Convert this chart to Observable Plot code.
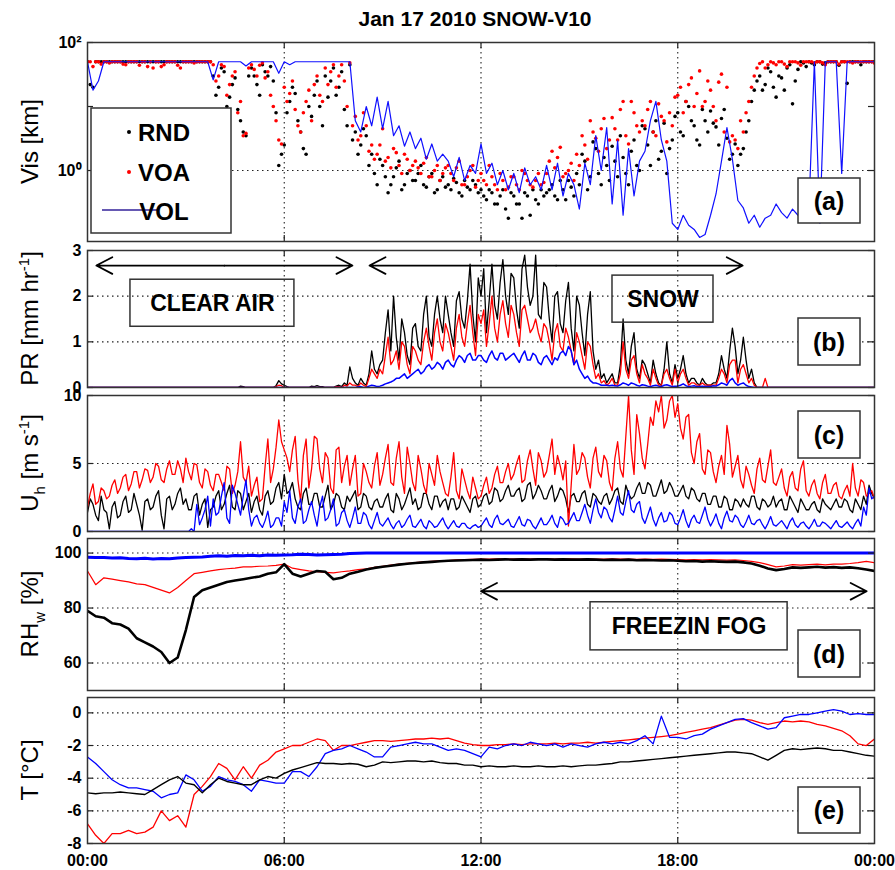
<!DOCTYPE html>
<html>
<head>
<meta charset="utf-8">
<script src="https://cdn.jsdelivr.net/npm/d3@7"></script>
<script src="https://cdn.jsdelivr.net/npm/@observablehq/plot@0.6"></script>
<style>
html,body{margin:0;padding:0;background:#fff;}
#chart{position:relative;width:895px;height:870px;overflow:hidden;font-family:"Liberation Sans",Arial,sans-serif;}
#chart svg{position:absolute;left:0;overflow:visible;}
#title{position:absolute;left:55px;width:840px;top:7px;text-align:center;font-size:21px;font-weight:bold;line-height:24px;color:#000;}
</style>
</head>
<body>
<div id="chart"><div id="title">Jan 17 2010 SNOW-V10</div></div>
<script>
// ---------- time axis ----------
const hourTicks = [0, 6, 12, 18, 24];
const hourLabels = ["00:00", "06:00", "12:00", "18:00", "00:00"];
const seriesNames = ["RND", "VOA", "VOL"];

// ---------- (a) visibility [km]; on the 10-min marks (…) and at the 5-min half steps (…Mid) ----------
const visRND = [
50,20,50,50,50,50, 50,50,50,50,50,50, 50,50,50,50,50,50, 50,50,50,50,50,30,
20,35,14,28,6,3.5, 40,22,45,30,25,1.2, 2.5,12,16,4,1.8,7, 25,5,14,40,20,9,
45,4,2.5,3.5,1.8,0.6, 1.2,0.45,0.8,1.4,0.6,1.0, 0.7,1.2,0.55,0.9,0.5,0.8, 0.6,0.75,0.45,0.7,0.5,0.6,
0.5,0.35,0.45,0.3,0.5,0.18, 0.4,0.3,0.45,0.2,0.35,0.5, 0.45,0.6,0.35,0.5,0.7,0.4, 0.6,1.4,0.8,2.2,0.6,1.2,
2.4,0.8,1.6,0.6,3.0,1.0, 4.5,1.2,6,2.0,0.9,3.0, 8,3.5,10,5,2.5,6, 8.5,4.8,6.5,3.2,1.8,1.2,
2.2,6,18,30,22,35, 14,28,40,11,38,48, 50,45,50,48,50,50, 50,23,50,50,50,50,
50];
const visRNDMid = [
22,50,50,50,50,50, 50,50,50,50,50,50, 50,50,50,50,50,50, 50,50,50,50,50,15,
40,10,22,9,4,30, 30,15,35,42,8,1.8, 8,20,6,2.2,10,15, 10,30,25,15,35,5,
3,1.8,4.5,1.2,0.9,1.5, 0.8,0.6,1.1,0.5,0.9,0.7, 0.9,0.6,0.8,0.45,0.7,0.55, 0.5,0.65,0.4,0.55,0.7,0.45,
0.4,0.5,0.3,0.4,0.25,0.45, 0.3,0.18,0.4,0.5,0.3,0.4, 0.5,0.4,0.7,0.35,0.55,0.9, 1.8,0.5,2.8,0.9,1.6,0.7,
1.4,3.5,0.9,2.0,1.2,5, 2.5,4,1.5,5.5,2.2,7, 4,12,6,3,9,4, 5.5,2.5,9,1.5,2.6,1.8,
4,12,25,18,40,20, 30,18,45,25,50,42, 48,50,46,50,50,44, 50,50,50,45,50,50];
const visVOA = [
50,42,50,50,48,50, 50,45,50,50,50,42, 40,50,45,50,50,40, 50,50,50,50,50,45,
30,42,22,35,12,3.8, 45,30,48,35,10,3, 20,16,9,4,12,6, 30,12,22,45,30,25,
48,7,3.5,5,2.5,1.8, 4.5,1.6,2.2,1.2,1.8,1.0, 1.4,0.9,1.6,0.8,1.2,0.9, 1.2,0.7,1.4,0.6,1.0,0.55,
0.9,0.6,0.8,0.5,0.7,0.55, 0.8,0.5,0.9,0.6,0.7,0.6, 0.9,2.0,1.6,0.8,1.0,0.7, 1.2,2.5,6,3.2,4.5,2.2,
6.7,3,12,2.6,8,4, 5,12,3.5,7,2.8,5, 15,8,22,10,36,12, 18,6,32,20,3.5,2.2,
4,12,30,47,40,50, 45,50,42,50,48,50, 50,48,50,45,50,50, 50,50,48,50,50,50,
48];
const visVOAMid = [
50,50,46,50,50,50, 46,50,50,44,50,50, 50,42,50,50,44,50, 50,48,50,50,50,25,
45,15,30,8,3.5,40, 38,44,28,15,6,2.6, 12,25,5,8,18,22, 15,40,35,20,45,10,
5,3,8,2,1.5,2.5, 1.4,1.1,1.9,0.9,1.5,1.2, 1.1,1.3,0.8,1.0,0.7,1.1, 0.9,1.1,0.6,0.8,1.2,0.7,
0.7,1.2,0.6,0.9,0.5,0.8, 0.6,1.0,0.7,0.55,0.9,0.65, 1.4,1.1,2.3,0.9,1.3,1.8, 3.5,1.5,4,2,6.5,3,
4.5,9,3.5,12,5,6, 9,4,11,6,8,14, 20,12,28,16,10,25, 10,24,4,2.8,3,6,
8,20,40,50,45,48, 50,46,50,50,44,50, 50,50,48,50,50,46, 50,50,50,50,50,50];
const visVOL = [
50,18,25,50,50,50, 50,50,50,50,50,50, 50,50,50,50,50,50, 50,50,50,50,50,26,
50,50,50,50,50,43, 50,50,50,50,50,33, 50,45,50,50,50,50, 50,50,50,50,50,50,
50,6,4,10,5,14, 4.5,12,3.5,5,2.4,4, 2.2,3.2,1.5,2.6,1.4,1.8, 1.4,0.8,1.6,0.7,1.2,0.9,
2.6,0.9,1.3,0.6,1.0,0.5, 0.9,0.45,1.1,0.6,0.8,0.5, 1.2,0.5,1.3,0.4,0.9,0.6, 0.25,1.3,0.6,3.5,1.0,4.7,
0.3,2.9,0.2,2.2,0.4,1.4, 2.0,6,12,3,1.4,0.15, 0.12,0.2,0.14,0.12,0.09,0.1, 0.2,0.43,1.4,4.7,1.5,0.34,
0.26,0.15,0.2,0.13,0.18,0.2, 0.3,0.22,0.18,0.25,0.2,0.3, 0.25,50,0.15,50,50,50, 0.9,50,50,50,50,50,
50];

// ---------- (b) precipitation rate [mm/hr] ----------
const prRND = [
0,0,0,0,0,0, 0,0,0,0,0,0, 0,0,0,0,0,0, 0,0,0,0,0,0,
0,0,0,0,0.03,0, 0,0,0,0,0,0.15, 0.05,0,0,0,0,0.03, 0.04,0.02,0,0,0.05,0.1,
0.45,0.1,0.2,0.05,0.8,0.3, 0.6,1.7,2.0,0.6,1.2,0.5, 1.4,0.8,2.0,0.9,2.0,1.2, 1.6,0.9,2.1,1.3,2.7,1.0,
2.0,1.2,2.7,1.5,2.8,1.6, 2.4,1.3,2.9,1.8,2.9,1.5, 2.2,1.0,2.1,1.2,2.3,0.8, 1.8,0.7,2.1,0.4,0.2,0.1,
0.3,0.1,1.5,0.3,1.2,0.2, 0.5,0.1,0.3,0.05,1.0,0.1, 0.2,0.7,0.1,0.2,0.05,0.1, 0.05,0.1,0.7,0.2,1.3,0.3,
1.1,0.2,0.1,0,0,0, 0,0,0,0,0,0, 0,0,0,0,0,0, 0,0,0,0,0,0,
0];
const prRNDMid = [
0,0,0,0,0,0, 0,0,0,0,0,0, 0,0,0,0,0,0, 0,0,0,0,0,0,
0,0,0,0,0.02,0, 0,0,0,0,0.04,0.08, 0.02,0,0,0,0,0.02, 0.02,0,0,0.03,0.02,0.05,
0.2,0.05,0.1,0.3,0.4,0.5, 1.2,0.8,1.1,1.5,0.7,1.3, 0.9,1.6,1.1,1.6,1.5,2.0, 1.2,1.9,1.5,1.9,1.6,2.4,
2.6,1.9,1.8,2.3,2.0,2.5, 1.7,2.6,2.2,2.0,1.6,2.3, 1.5,2.0,1.4,1.9,1.3,2.0, 1.2,1.6,0.8,0.6,0.3,0.2,
0.1,0.5,0.6,0.9,0.4,0.6, 0.3,0.6,0.1,0.4,0.3,0.5, 0.4,0.3,0.2,0.1,0.2,0.05, 0.1,0.3,0.4,0.8,0.9,0.6,
0.6,0.4,0,0,0,0, 0,0,0,0,0,0, 0,0,0,0,0,0, 0,0,0,0,0,0];
const prVOA = [
0,0,0,0,0,0, 0,0,0,0,0,0, 0,0,0,0,0,0, 0,0,0,0,0,0,
0,0,0,0,0,0, 0,0,0,0,0,0.05, 0,0,0,0,0,0, 0,0,0,0,0.02,0.05,
0.1,0.05,0.1,0.02,0.4,0.2, 0.3,1.1,0.6,0.4,0.9,0.3, 0.8,0.5,1.3,0.6,1.5,0.8, 1.2,0.6,1.6,0.9,1.8,0.7,
1.4,0.9,2.0,1.0,1.9,1.1, 1.6,0.9,1.8,1.2,1.5,1.0, 1.3,0.6,1.4,0.8,1.1,0.5, 1.0,0.4,0.9,0.2,0.1,0.05,
0.2,0.05,1.0,0.2,0.7,0.1, 0.3,0.05,0.2,0.05,0.4,0.05, 0.1,0.4,0.05,0.1,0.05,0.05, 0.05,0.05,0.4,0.1,0.6,0.1,
0.5,0.1,0.05,0,0.2,0, 0,0,0,0,0,0, 0,0,0,0,0,0, 0,0,0,0,0,0,
0];
const prVOAMid = [
0,0,0,0,0,0, 0,0,0,0,0,0, 0,0,0,0,0,0, 0,0,0,0,0,0,
0,0,0,0,0,0, 0,0,0,0,0.02,0.04, 0,0,0,0,0,0, 0,0,0,0.02,0,0.03,
0.05,0.02,0.05,0.2,0.3,0.4, 0.7,0.5,0.8,1.0,0.5,0.9, 0.6,1.0,0.9,1.2,1.0,1.4, 0.9,1.3,1.1,1.4,1.2,1.6,
1.7,1.4,1.3,1.6,1.4,1.8, 1.2,1.7,1.5,1.3,1.2,1.4, 1.0,1.2,0.9,1.3,0.8,1.2, 0.7,1.0,0.5,0.3,0.15,0.1,
0.05,0.3,0.4,0.6,0.3,0.5, 0.2,0.4,0.05,0.3,0.2,0.4, 0.3,0.2,0.1,0.05,0.1,0.05, 0.05,0.2,0.3,0.5,0.6,0.4,
0.3,0.2,0,0,0,0, 0,0,0,0,0,0, 0,0,0,0,0,0, 0,0,0,0,0,0];
const prVOL = [
0,0,0,0,0,0, 0,0,0,0,0,0, 0,0,0,0,0,0, 0,0,0,0,0,0,
0,0,0,0,0,0, 0,0,0,0,0,0, 0,0,0,0,0,0, 0,0,0,0,0,0,
0,0,0.02,0,0.05,0.02, 0.05,0.1,0.15,0.2,0.3,0.25, 0.35,0.3,0.45,0.4,0.55,0.4, 0.6,0.45,0.7,0.55,0.75,0.6,
0.7,0.55,0.8,0.6,0.75,0.65, 0.75,0.55,0.8,0.6,0.7,0.5, 0.7,0.5,0.6,0.8,0.9,0.5, 0.4,0.2,0.15,0.1,0.05,0.05,
0.05,0.03,0.1,0.05,0.08,0.03, 0.05,0.02,0.05,0.02,0.06,0.02, 0.03,0.08,0.02,0.04,0.02,0.02, 0.02,0.03,0.1,0.05,0.2,0.05,
0.1,0.02,0,0,0,0, 0,0,0,0,0,0, 0,0,0,0,0,0, 0,0,0,0,0,0,
0];
const prVOLMid = [
0,0,0,0,0,0, 0,0,0,0,0,0, 0,0,0,0,0,0, 0,0,0,0,0,0,
0,0,0,0,0,0, 0,0,0,0,0,0, 0,0,0,0,0,0, 0,0,0,0,0,0,
0,0.01,0,0.03,0.04,0.03, 0.08,0.12,0.2,0.25,0.2,0.3, 0.4,0.35,0.5,0.45,0.5,0.55, 0.5,0.6,0.65,0.7,0.6,0.7,
0.6,0.7,0.65,0.75,0.6,0.7, 0.65,0.7,0.6,0.75,0.55,0.65, 0.6,0.65,0.75,0.7,0.8,0.6, 0.3,0.25,0.1,0.08,0.05,0.04,
0.04,0.06,0.08,0.1,0.05,0.06, 0.03,0.04,0.03,0.05,0.04,0.03, 0.05,0.04,0.03,0.02,0.03,0.02, 0.04,0.06,0.08,0.15,0.1,0.08,
0.05,0.01,0,0,0,0, 0,0,0,0,0,0, 0,0,0,0,0,0, 0,0,0,0,0,0];

// ---------- (c) horizontal wind [m/s] ----------
const uhRND = [
1.4,2.0,0.8,1.6,0.2,2.2, 1.2,2.6,1.6,2.0,0.1,2.4, 1.8,3.0,0.2,2.6,2.0,3.2, 2.4,1.6,2.8,2.0,0.3,1.8,
3.0,2.0,3.4,1.6,2.8,2.2, 1.4,2.6,1.2,3.0,2.2,3.6, 4.2,3.0,2.4,1.6,3.2,2.0, 2.8,1.8,3.4,2.0,2.6,1.6,
2.2,3.0,1.8,2.6,1.6,2.4, 1.8,2.8,1.4,2.4,2.0,3.2, 2.4,1.8,2.8,1.6,2.6,2.2, 1.6,2.4,1.8,2.2,1.4,2.6,
2.0,2.8,2.2,3.0,2.4,3.4, 2.6,3.2,2.4,3.6,2.8,3.0, 2.4,3.4,2.6,3.0,1.4,2.8, 2.2,3.0,1.8,2.6,2.0,2.8,
2.4,3.2,2.0,2.8,2.6,3.6, 2.8,3.4,2.6,3.8,3.0,3.2, 2.6,3.4,2.4,3.0,2.2,2.8, 2.0,2.6,1.8,2.4,1.6,2.2,
2.4,1.8,2.6,1.6,2.2,2.0, 1.8,2.4,1.6,2.2,1.4,2.0, 1.6,2.2,1.4,2.0,1.6,2.4, 1.8,2.2,1.4,2.0,2.6,3.4,
2.4];
const uhRNDMid = [
2.4,1.2,2.6,1.4,1.8,1.0, 2.2,1.4,2.8,1.2,2.2,1.6, 2.6,1.2,2.4,1.6,2.8,2.0, 1.6,2.6,1.2,2.4,1.6,2.6,
1.6,2.8,1.8,3.0,1.6,2.8, 2.2,1.6,2.6,2.0,3.2,2.4, 2.8,3.6,1.8,2.8,2.0,2.8, 1.8,2.6,1.6,2.8,1.8,2.6,
2.6,1.6,2.8,1.8,2.2,1.8, 2.4,1.6,2.8,1.6,2.6,2.0, 1.6,2.8,2.0,2.6,1.8,2.4, 2.4,1.6,2.6,1.8,2.4,1.8,
2.6,2.0,3.2,2.2,3.0,2.6, 3.0,2.2,3.4,2.4,3.4,2.4, 3.0,2.2,3.2,2.4,2.6,2.2, 2.8,2.0,2.8,2.2,2.6,2.0,
3.0,2.2,3.4,2.4,3.2,2.8, 3.6,2.6,3.2,2.8,3.6,2.6, 3.0,2.6,3.2,2.4,2.8,2.0, 2.6,1.8,2.6,1.6,2.4,1.8,
2.0,2.6,1.8,2.4,1.8,2.6, 2.2,1.6,2.6,1.8,2.4,1.6, 2.0,1.6,2.4,1.8,2.0,1.8, 2.4,1.6,2.4,1.6,2.0,2.8];
const uhVOA = [
1.8,3.5,2.2,3.0,2.6,3.8, 3.2,4.2,3.5,4.4,3.8,4.5, 4.0,4.8,3.6,5.2,4.2,4.6, 5.4,3.8,4.9,3.2,4.4,3.0,
4.2,3.0,4.6,3.4,6.6,3.6, 2.6,4.0,2.4,6.8,4.6,8.2, 6.0,4.4,7.0,2.2,6.8,4.6, 6.8,3.6,5.4,2.8,6.2,4.8,
3.4,5.6,2.8,4.4,3.2,5.8, 4.2,6.4,3.4,6.6,2.8,5.0, 3.0,4.6,2.8,4.2,5.6,3.6, 2.6,5.8,2.4,3.8,2.4,3.2,
2.6,4.0,3.2,4.8,3.6,5.0, 4.2,5.6,3.8,6.0,3.4,5.2, 4.4,6.8,5.6,3.8,0.4,6.4, 4.6,5.4,3.2,6.2,4.0,5.2,
3.0,6.6,4.0,10.0,4.2,7.2, 4.6,8.4,9.6,10.0,8.2,10.0, 9.4,6.8,8.6,5.0,7.2,4.2, 5.8,3.6,5.6,7.8,4.0,5.6,
3.2,4.2,2.8,5.4,3.6,6.0, 3.4,4.6,2.6,4.4,3.0,5.2, 2.6,3.8,2.4,4.2,2.8,3.6, 2.4,3.4,5.0,2.6,3.6,2.8,
2.4];
const uhVOAMid = [
2.8,2.0,3.2,2.4,3.4,2.8, 4.0,3.0,4.4,3.2,4.6,3.6, 5.0,3.8,4.6,4.2,5.2,3.6, 4.4,5.0,3.6,4.6,3.4,4.2,
3.6,4.8,2.8,4.4,4.0,4.8, 3.4,2.2,4.8,3.6,6.2,6.6, 5.4,6.0,3.8,5.6,3.2,7.0, 4.6,5.8,3.2,6.0,3.6,5.6,
4.6,2.6,5.0,3.6,4.8,3.4, 5.4,3.6,5.4,4.0,6.2,3.6, 5.6,3.4,5.0,3.4,4.4,2.8, 4.0,3.0,4.6,3.0,4.0,2.4,
3.4,2.8,4.2,3.6,4.4,3.8, 5.0,3.6,5.2,4.6,5.8,4.0, 5.6,4.2,4.8,5.2,3.4,4.2, 5.8,4.0,5.4,4.4,5.6,3.6,
5.4,4.6,7.0,6.0,8.6,5.4, 6.4,7.8,8.8,7.6,9.6,8.4, 7.6,8.4,5.8,6.6,4.6,6.0, 4.4,4.8,4.2,6.4,4.8,3.8,
4.8,3.4,4.6,3.8,4.8,3.6, 4.0,3.2,4.0,3.2,4.6,3.0, 3.4,2.8,3.6,2.8,3.4,2.6, 3.0,2.6,3.2,3.8,2.6,3.0];
const uhVOL = [
0,0,0,0,0,0, 0,0,0,0,0,0, 0,0,0,0,0,0, 0,0.2,2.0,1.0,2.6,2.4,
1.4,3.6,0.6,2.8,1.2,3.8, 0.4,1.2,0.3,1.5,0.5,1.0, 2.2,3.0,0.6,2.4,0.8,2.2, 0.4,2.6,1.0,2.4,0.6,1.6,
0.3,1.8,0.6,1.2,0.2,1.4, 0.4,1.0,0.2,0.8,0.5,1.2, 0.3,0.9,0.2,0.6,0.4,1.0, 0.2,0.8,0.3,0.6,0.2,0.5,
0.4,1.0,0.3,1.2,0.5,0.9, 0.3,1.1,0.4,0.8,0.2,1.0, 0.5,1.2,0.3,0.9,0.6,1.4, 0.8,2.0,0.6,2.4,1.0,1.6,
0.7,2.6,1.2,3.0,1.4,2.2, 0.6,1.8,0.4,1.4,0.8,1.2, 0.5,1.6,0.3,1.2,0.6,1.8, 0.4,1.3,0.2,1.5,0.7,1.0,
0.3,1.2,0.5,0.9,0.2,1.1, 0.4,0.8,0.2,1.0,0.3,0.7, 0.2,0.9,0.4,0.6,0.2,0.8, 0.3,0.7,0.2,0.9,1.8,3.2,
2.6];
const uhVOLMid = [
0,0,0,0,0,0, 0,0,0,0,0,0, 0,0,0,0,0,0, 0,0,0.5,1.6,0.4,1.2,
2.6,1.0,3.4,2.0,2.6,1.6, 1.0,0.6,0.8,0.3,1.0,0.4, 1.4,1.0,1.8,0.6,1.6,1.2, 1.8,0.8,1.6,0.4,1.4,0.8,
1.0,0.6,1.4,0.5,0.8,0.6, 0.7,0.5,0.6,0.3,0.9,0.4, 0.6,0.4,0.8,0.3,0.7,0.5, 0.5,0.4,0.6,0.3,0.4,0.3,
0.7,0.5,0.9,0.6,0.7,0.4, 0.7,0.5,0.9,0.4,0.6,0.5, 0.8,0.6,1.1,0.5,1.0,0.8, 1.4,1.2,1.6,1.4,1.8,1.0,
1.6,1.4,2.2,1.6,2.0,1.0, 1.2,0.9,1.0,0.7,1.4,0.6, 1.0,0.8,0.9,0.7,1.2,0.9, 0.8,0.6,1.0,0.8,1.2,0.5,
0.7,0.6,0.8,0.5,0.6,0.5, 0.6,0.5,0.7,0.5,0.6,0.4, 0.5,0.4,0.7,0.4,0.5,0.4, 0.5,0.4,0.6,0.4,1.2,2.4];

// ---------- (d) relative humidity wrt water [%], every 15 min ----------
const rhRND = [
79,77,76.5,74.5, 74,72.5,69,67.5, 66,64,60,62, 72,84,86.5,87.5,
88.5,89.5,90,90.5, 91,91.5,92.5,93, 96,92.5,91.5,92.5, 93.5,93.2,90.5,91,
92.5,93.2,94,94.6, 95.0,95.4,95.8,96.1, 96.4,96.6,96.8,97, 97.2,97.3,97.4,97.5,
97.6,97.5,97.6,97.7, 97.6,97.7,97.6,97.7, 97.7,97.6,97.7,97.6, 97.6,97.7,97.6,97.5,
97.6,97.5,97.6,97.4, 97.5,97.4,97.3,97.4, 97.2,97.0,97.1,96.9, 97.0,96.9,96.8,96.9,
96.6,96.2,95.4,94.4, 93.8,94.2,94.8,94.6, 94.8,95,94.7,94.9, 94.6,94.8,94.5,94,
93.5];
const rhVOA = [
93.5,88.5,91,90.5, 90,89.5,88.8,88.5, 87.5,86.5,85.5,87.5, 90,92.5,93,93.5,
94,94.3,94.5,95, 95,95.2,95.3,95.5, 96,94.5,94,93.5, 93.2,93,92.8,93.2,
93.5,94,94.3,94.8, 95.2,95.6,96,96.3, 96.5,96.8,97,97.2, 97.3,97.5,97.6,97.7,
97.8,97.8,97.9,97.8, 97.8,97.9,97.8,97.9, 97.9,97.8,97.9,97.9, 97.8,97.9,97.8,97.8,
97.9,97.8,97.8,97.7, 97.8,97.7,97.8,97.7, 97.6,97.5,97.6,97.5, 97.6,97.5,97.4,97.5,
97.3,97.0,96.5,95.8, 95.0,95.3,95.8,95.6, 95.8,96,95.7,96, 96,96.2,96.5,97,
96.5];
const rhVOL = [
98.5,98.4,98.4,98.2, 98.3,98.0,97.9,98.1, 97.8,98.0,97.9,98.2, 98.4,98.5,98.6,98.8,
99.0,98.8,99.1,99.0, 99.2,99.0,99.3,99.2, 99.3,99.4,99.6,99.5, 99.3,99.4,99.5,99.6,
99.8,99.9,100,100, 100,100,100,100, 100,100,100,100, 100,100,100,100,
100,100,100,100, 100,100,100,100, 100,100,100,100, 100,100,100,100,
100,100,100,100, 100,100,100,100, 100,100,100,100, 100,100,100,100,
100,100,100,100, 100,100,100,100, 100,100,100,100, 100,100,100,100,
100];

// ---------- (e) temperature [C], every 15 min ----------
const tRND = [
-4.9,-4.95,-4.9,-4.9, -4.85,-4.9,-4.95,-5.0, -4.7,-4.4,-4.1,-3.9, -4.3,-4.4,-4.9,-4.4,
-4.0,-4.2,-4.3,-4.4, -4.4,-4.1,-3.9,-4.0, -3.7,-3.5,-3.35,-3.2, -3.05,-3.1,-3.1,-3.15,
-3.1,-3.15,-3.3,-3.2, -3.0,-3.05,-3.0,-2.95, -2.95,-3.0,-2.95,-3.05, -3.1,-3.1,-3.2,-3.2,
-3.3,-3.25,-3.3,-3.3, -3.25,-3.3,-3.3,-3.25, -3.3,-3.3,-3.25,-3.3, -3.25,-3.2,-3.2,-3.15,
-3.1,-3.0,-3.0,-2.95, -2.9,-2.85,-2.8,-2.75, -2.7,-2.65,-2.6,-2.55, -2.5,-2.45,-2.4,-2.4,
-2.45,-2.5,-2.7,-2.9, -2.6,-2.3,-2.2,-2.25, -2.2,-2.15,-2.2,-2.3, -2.3,-2.4,-2.5,-2.6,
-2.65];
const tVOA = [
-6.8,-7.5,-8.0,-7.4, -7.4,-7.2,-7.4,-7.3, -7.0,-6.0,-6.6,-6.3, -7.0,-5.0,-4.5,-3.9,
-3.1,-3.4,-4.1,-3.3, -4.0,-3.2,-2.9,-2.4, -2.2,-2.0,-2.0,-1.8, -1.6,-1.7,-2.3,-2.0,
-2.0,-1.9,-1.8,-1.7, -1.7,-1.75,-1.7,-1.65, -1.6,-1.6,-1.55,-1.6, -1.55,-1.7,-1.85,-1.95,
-2.0,-2.0,-1.95,-1.95, -1.9,-1.95,-1.9,-1.9, -1.9,-1.85,-1.9,-1.85, -1.85,-1.8,-1.85,-1.8,
-1.75,-1.7,-1.65,-1.6, -1.55,-1.5,-1.45,-1.4, -1.3,-1.2,-1.1,-1.0, -0.9,-0.75,-0.6,-0.45,
-0.4,-0.45,-0.6,-0.7, -0.6,-0.5,-0.55,-0.5, -0.55,-0.7,-0.8,-0.95, -1.1,-1.4,-1.9,-2.0,
-1.6];
const tVOL = [
-2.7,-3.1,-3.6,-4.1, -4.4,-4.6,-4.6,-4.7, -4.8,-5.2,-5.0,-4.9, -3.8,-4.1,-4.8,-4.5,
-3.9,-4.1,-4.2,-4.4, -4.8,-4.1,-4.2,-4.3, -4.3,-3.6,-3.6,-3.9, -3.3,-2.5,-2.3,-2.2,
-2.0,-2.2,-2.4,-2.7, -2.7,-2.1,-2.0,-1.9, -1.8,-1.9,-1.9,-2.1, -2.3,-2.2,-2.3,-2.5,
-2.7,-2.1,-2.2,-2.0, -1.9,-2.0,-1.8,-1.9, -2.0,-1.9,-2.1,-1.9, -2.0,-2.1,-1.9,-1.8,
-1.9,-1.8,-1.9,-1.7, -1.4,-1.9,-0.2,-1.5, -1.5,-1.6,-1.4,-1.3, -1.0,-0.8,-0.6,-0.4,
-0.35,-0.6,-0.8,-1.0, -0.9,-0.3,-0.2,-0.1, -0.1,0.0,0.1,0.2, 0.1,-0.1,-0.05,-0.1,
-0.1];

// ---------- annotations ----------
const arrowsB = [{x1: 0.27, x2: 8.08, y: 2.67}, {x1: 8.6, x2: 19.98, y: 2.67}];
const boxesB = [
  {x1: 1.31, x2: 6.31, y1: 1.33, y2: 2.36, label: "CLEAR AIR"},
  {x1: 16.01, x2: 19.09, y1: 1.42, y2: 2.45, label: "SNOW"}
];
const arrowsD = [{x1: 12.0, x2: 23.76, y: 86.1}];
const boxesD = [{x1: 15.34, x2: 21.35, y1: 64.6, y2: 82.1, label: "FREEZIN FOG"}];

// ---------- helpers ----------
const S10 = 1 / 6, S15 = 1 / 4;
const rows = (arr, step) => arr.map((v, i) => ({t: i * step, v}));
// combine the 10-min readings with the readings taken half-way between them
const rows2 = (arr, mid, step) => {
  const out = [];
  arr.forEach((v, i) => {
    out.push({t: i * step, v});
    if (i < mid.length) out.push({t: (i + 0.5) * step, v: mid[i]});
  });
  return out;
};
const chart = document.getElementById("chart");
const FONT = "'Liberation Sans', Arial, Helvetica, sans-serif";
const FW = 787; // frame width in px (87..874)

function panel({top, bottom, y, ticks, tickFmt, grid, marks, xLabels = false}) {
  const mt = 10, mb = xLabels ? 27 : 10;
  const h = bottom - top;
  const gridStyle = {stroke: "#222", strokeDasharray: "1.5,3.5", strokeWidth: 1.1};
  const svg = Plot.plot({
    width: 895, height: h + mt + mb,
    marginLeft: 87, marginRight: 21, marginTop: mt, marginBottom: mb,
    style: {fontFamily: FONT, fontSize: "16px", fontWeight: "bold", color: "#000", background: "transparent", overflow: "visible"},
    x: xLabels ? {domain: [0, 24]} : {domain: [0, 24], axis: null},
    y,
    marks: [
      Plot.ruleX([6, 12, 18], {x: d => d, ...gridStyle}),
      Plot.ruleY(grid, {y: d => d, ...gridStyle}),
      ...marks,
      Plot.tickY(ticks, {y: d => d, insetRight: FW - 6, stroke: "#222", strokeWidth: 1.2}),
      Plot.tickY(ticks, {y: d => d, insetLeft: FW - 6, stroke: "#222", strokeWidth: 1.2}),
      Plot.tickX([6, 12, 18], {x: d => d, insetTop: h - 6, stroke: "#222", strokeWidth: 1.2}),
      Plot.tickX([6, 12, 18], {x: d => d, insetBottom: h - 6, stroke: "#222", strokeWidth: 1.2}),
      Plot.axisY(ticks, {tickSize: 0, tickPadding: 6, label: null, tickFormat: tickFmt, fontSize: 16, fontWeight: "bold"}),
      xLabels ? Plot.axisX(hourTicks, {tickSize: 0, tickPadding: 11, label: null,
        tickFormat: d => hourLabels[hourTicks.indexOf(d)], fontSize: 16, fontWeight: "bold"}) : null,
      Plot.frame({stroke: "#333", strokeWidth: 1.5})
    ]
  });
  const svgTop = top - mt;
  svg.style.top = svgTop + "px";
  chart.append(svg);
  return {svg: d3.select(svg), svgTop, cy: mt + h / 2};
}

function yLabel(p, parts) {
  const t = p.svg.append("text")
    .attr("transform", `translate(38,${p.cy}) rotate(-90)`)
    .attr("text-anchor", "middle")
    .style("font-family", FONT).style("font-size", "24px").style("font-weight", "normal").attr("fill", "#000");
  let cur = 0;
  for (const [txt, kind] of parts) {
    const target = kind === "sup" ? -9 : kind === "sub" ? 7 : 0;
    const s = t.append("tspan").text(txt).attr("dy", target - cur);
    if (kind) s.style("font-size", "15px");
    cur = target;
  }
}

function tagBox(p, y1, y2, label) {
  p.svg.append("rect").attr("x", 798).attr("y", y1 - p.svgTop).attr("width", 62).attr("height", y2 - y1)
    .attr("fill", "#fff").attr("stroke", "#333").attr("stroke-width", 1.5);
  p.svg.append("text").attr("x", 829).attr("y", (y1 + y2) / 2 - p.svgTop).attr("dy", "0.36em")
    .attr("text-anchor", "middle").style("font-family", FONT).style("font-size", "25px").style("font-weight", "bold")
    .attr("fill", "#000").text(label);
}

const lineOpts = (stroke, w = 1.1) => ({x: "t", y: "v", stroke, strokeWidth: w, clip: true});
const arrowOpts = {y1: "y", y2: "y", stroke: "#000", strokeWidth: 1.8, headLength: 15, headAngle: 55};

// ---------- panel (a) ----------
const pa = panel({
  top: 42, bottom: 241,
  y: {type: "log", domain: [0.0778, 100]},
  ticks: [1, 10, 100],
  tickFmt: d => d === 1 ? "10⁰" : d === 100 ? "10²" : "",
  grid: [1],
  marks: [
    Plot.dot(rows2(visRND, visRNDMid, S10), {x: "t", y: "v", r: 1.8, fill: "#000", stroke: null, clip: true}),
    Plot.dot(rows2(visVOA, visVOAMid, S10), {x: "t", y: "v", r: 1.8, fill: "#f00", stroke: null, clip: true}),
    Plot.line(rows(visVOL, S10), lineOpts("#1010ff", 1.2))
  ]
});
yLabel(pa, [["Vis [km]"]]);
{
  const g = pa.svg.append("g").attr("transform", `translate(0,${-pa.svgTop})`);
  g.append("rect").attr("x", 91).attr("y", 108).attr("width", 140).attr("height", 125)
    .attr("fill", "#fff").attr("stroke", "#333").attr("stroke-width", 1.5);
  g.append("circle").attr("cx", 129).attr("cy", 132).attr("r", 2).attr("fill", "#000");
  g.append("circle").attr("cx", 129).attr("cy", 172).attr("r", 2).attr("fill", "#f00");
  g.append("line").attr("x1", 102).attr("x2", 157).attr("y1", 210).attr("y2", 210).attr("stroke", "#33229a").attr("stroke-width", 1.5);
  const ys = [141, 181, 220];
  seriesNames.forEach((s, i) => g.append("text").attr("x", 164).attr("y", ys[i])
    .style("font-family", FONT).style("font-size", "24px").style("font-weight", "bold").attr("fill", "#000").text(s));
}
tagBox(pa, 178, 223, "(a)");

// ---------- panel (b) ----------
const pb = panel({
  top: 250, bottom: 387,
  y: {domain: [0, 3]},
  ticks: [0, 1, 2, 3], tickFmt: d => String(d),
  grid: [1, 2],
  marks: [
    Plot.line(rows2(prRND, prRNDMid, S10), lineOpts("#000", 1.3)),
    Plot.line(rows2(prVOA, prVOAMid, S10), lineOpts("#f00", 1.3)),
    Plot.line(rows2(prVOL, prVOLMid, S10), lineOpts("#00f", 1.5)),
    Plot.arrow(arrowsB, {x1: d => (d.x1 + d.x2) / 2, x2: "x2", ...arrowOpts}),
    Plot.arrow(arrowsB, {x1: d => (d.x1 + d.x2) / 2, x2: "x1", ...arrowOpts}),
    Plot.rect(boxesB, {x1: "x1", x2: "x2", y1: "y1", y2: "y2", fill: "none", stroke: "#333", strokeWidth: 1.5}),
    Plot.text(boxesB, {x: d => (d.x1 + d.x2) / 2, y: d => (d.y1 + d.y2) / 2, text: "label", fontSize: 23, fontWeight: "bold", fill: "#000"})
  ]
});
yLabel(pb, [["PR [mm hr"], ["-1", "sup"], ["]"]]);
tagBox(pb, 318, 365, "(b)");

// ---------- panel (c) ----------
const pc = panel({
  top: 395, bottom: 531,
  y: {domain: [0, 10]},
  ticks: [0, 5, 10], tickFmt: d => String(d),
  grid: [5],
  marks: [
    Plot.line(rows2(uhRND, uhRNDMid, S10), lineOpts("#000", 1.3)),
    Plot.line(rows2(uhVOA, uhVOAMid, S10), lineOpts("#f00", 1.3)),
    Plot.line(rows2(uhVOL, uhVOLMid, S10), lineOpts("#00f", 1.3))
  ]
});
yLabel(pc, [["U"], ["h", "sub"], [" [m s"], ["-1", "sup"], ["]"]]);
tagBox(pc, 411, 458, "(c)");

// ---------- panel (d) ----------
const pd = panel({
  top: 538, bottom: 690,
  y: {domain: [50, 105.3]},
  ticks: [60, 80, 100], tickFmt: d => String(d),
  grid: [60, 80, 100],
  marks: [
    Plot.line(rows(rhVOL, S15), lineOpts("#00f", 3)),
    Plot.line(rows(rhVOA, S15), lineOpts("#f00", 1.2)),
    Plot.line(rows(rhRND, S15), lineOpts("#000", 2.6)),
    Plot.arrow(arrowsD, {x1: d => (d.x1 + d.x2) / 2, x2: "x2", ...arrowOpts}),
    Plot.arrow(arrowsD, {x1: d => (d.x1 + d.x2) / 2, x2: "x1", ...arrowOpts}),
    Plot.rect(boxesD, {x1: "x1", x2: "x2", y1: "y1", y2: "y2", fill: "none", stroke: "#333", strokeWidth: 1.5}),
    Plot.text(boxesD, {x: d => (d.x1 + d.x2) / 2, y: d => (d.y1 + d.y2) / 2, text: "label", fontSize: 23, fontWeight: "bold", fill: "#000"})
  ]
});
yLabel(pd, [["RH"], ["w", "sub"], [" [%]"]]);
tagBox(pd, 630, 677, "(d)");

// ---------- panel (e) ----------
const pe = panel({
  top: 697, bottom: 843,
  y: {domain: [-8, 0.94]},
  ticks: [-8, -6, -4, -2, 0], tickFmt: d => String(d),
  grid: [-6, -4, -2, 0],
  xLabels: true,
  marks: [
    Plot.line(rows(tVOA, S15), lineOpts("#f00", 1.3)),
    Plot.line(rows(tVOL, S15), lineOpts("#00f", 1.3)),
    Plot.line(rows(tRND, S15), lineOpts("#000", 1.4))
  ]
});
yLabel(pe, [["T [°C]"]]);
tagBox(pe, 787, 833, "(e)");
</script>
</body>
</html>
